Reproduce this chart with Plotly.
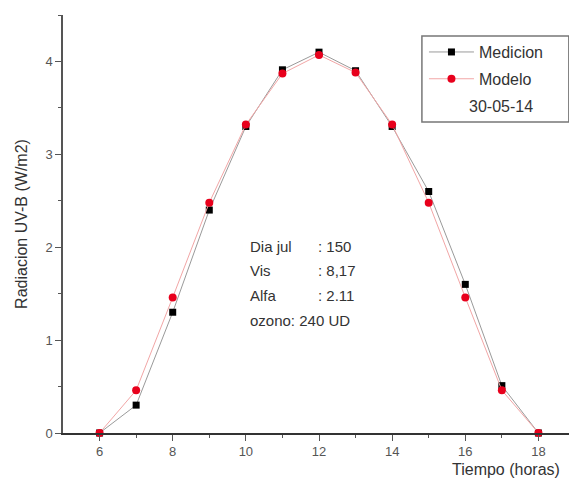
import plotly.graph_objects as go

horas = [6, 7, 8, 9, 10, 11, 12, 13, 14, 15, 16, 17, 18]
medicion = [0.0, 0.30, 1.30, 2.40, 3.30, 3.91, 4.10, 3.90, 3.30, 2.60, 1.60, 0.51, 0.0]
modelo = [0.0, 0.46, 1.46, 2.48, 3.32, 3.87, 4.07, 3.88, 3.32, 2.48, 1.46, 0.46, 0.0]

info_labels = ["Dia jul", "Vis", "Alfa"]
info_values = [": 150", ": 8,17", ": 2.11"]
info_last = "ozono: 240 UD"
fecha = "30-05-14"

FONT = "Liberation Sans, Arial, sans-serif"
fig = go.Figure()
fig.add_trace(go.Scatter(
    x=horas, y=medicion, name="Medicion", mode="lines+markers",
    legendgroup="a",
    line=dict(color="#9a9a9a", width=1),
    marker=dict(symbol="square", size=7, color="#000000"),
    cliponaxis=False,
))
fig.add_trace(go.Scatter(
    x=horas, y=modelo, name="Modelo", mode="lines+markers",
    legendgroup="b",
    line=dict(color="#f2a6a6", width=1),
    marker=dict(symbol="circle", size=8, color="#e8001c"),
    cliponaxis=False,
))

fig.update_layout(
    width=569, height=485,
    margin=dict(l=55, r=2, t=7, b=60),
    paper_bgcolor="white", plot_bgcolor="white",
    font=dict(family=FONT, color="#333333", size=13),
    showlegend=True,
    legend=dict(x=0.705, y=0.952, xanchor="left", yanchor="top",
                bgcolor="rgba(0,0,0,0)", font=dict(size=16, color="#333333"),
                tracegroupgap=3, itemwidth=45),
    xaxis=dict(range=[5, 19], tickvals=[6, 8, 10, 12, 14, 16, 18],
               showgrid=False, zeroline=False, showline=True,
               linecolor="#333333", linewidth=1.5,
               ticks="outside", ticklen=6, tickcolor="#555555",
               minor=dict(tickvals=[7, 9, 11, 13, 15, 17], ticks="outside",
                          ticklen=3, tickcolor="#555555"),
               tickfont=dict(size=13, color="#555555")),
    yaxis=dict(range=[0, 4.5], tickvals=[0, 1, 2, 3, 4],
               showgrid=False, zeroline=False, showline=True,
               linecolor="#555555", linewidth=1.5,
               ticks="outside", ticklen=6, tickcolor="#555555",
               minor=dict(tickvals=[0.5, 1.5, 2.5, 3.5, 4.5], ticks="outside",
                          ticklen=3, tickcolor="#555555"),
               tickfont=dict(size=13, color="#555555"),
               title=dict(text="Radiacion UV-B (W/m2)", standoff=14,
                          font=dict(size=16, color="#333333"))),
)

# legend frame
fig.add_shape(type="rect", xref="paper", yref="paper",
              x0=0.701, x1=0.988, y0=0.744, y1=0.950,
              line=dict(color="#777777", width=1.5), fillcolor="rgba(0,0,0,0)")
fig.add_annotation(x=0.855, y=0.782, xref="paper", yref="paper",
                   text=fecha, showarrow=False, xanchor="center", yanchor="middle",
                   font=dict(size=16, color="#333333"))

ys = [0.447, 0.388, 0.328]
for lab, val, yy in zip(info_labels, info_values, ys):
    fig.add_annotation(x=0.361, y=yy, xref="paper", yref="paper", text=lab,
                       showarrow=False, xanchor="left", yanchor="middle",
                       font=dict(size=15, color="#333333"))
    fig.add_annotation(x=0.494, y=yy, xref="paper", yref="paper", text=val,
                       showarrow=False, xanchor="left", yanchor="middle",
                       font=dict(size=15, color="#333333"))
fig.add_annotation(x=0.361, y=0.268, xref="paper", yref="paper", text=info_last,
                   showarrow=False, xanchor="left", yanchor="middle",
                   font=dict(size=15, color="#333333"))

fig.add_annotation(x=0.865, y=-0.088, xref="paper", yref="paper",
                   text="Tiempo (horas)", showarrow=False,
                   xanchor="center", yanchor="middle",
                   font=dict(size=16, color="#333333"))

fig.write_html("out.html")
